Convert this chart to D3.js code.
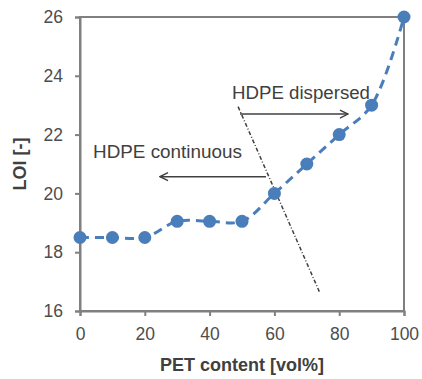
<!DOCTYPE html>
<html>
<head>
<meta charset="utf-8">
<script src="https://cdn.jsdelivr.net/npm/d3@7"></script>
<style>
  body { margin: 0; background: #fff; }
  text { font-family: "Liberation Sans", Arial, sans-serif; }
</style>
</head>
<body>
<div id="chart"></div>
<script>
// data
const petContent = [0, 10, 20, 30, 40, 50, 60, 70, 80, 90, 100];
const loi = [18.5, 18.5, 18.5, 19.05, 19.05, 19.05, 20, 21, 22, 23, 26];
const xTicks = [0, 20, 40, 60, 80, 100];
const yTicks = [16, 18, 20, 22, 24, 26];
// phase boundary line and the two arrows (data coordinates)
const boundary = [[48.8, 22.95], [74.1, 16.6]];
const arrowDispersed = [[49.4, 22.7], [82.7, 22.7]];
const arrowContinuous = [[57.4, 20.57], [24.7, 20.57]];

const w = 422, h = 379;
const margin = { top: 17, right: 18, bottom: 68, left: 80 };

const svg = d3.select("#chart")
    .append("svg")
    .attr("width", w)
    .attr("height", h);

const xScale = d3.scaleLinear()
    .domain([0, 100])
    .range([margin.left, w - margin.right]);

const yScale = d3.scaleLinear()
    .domain([16, 26])
    .range([h - margin.bottom, margin.top]);

const axisColor = "#808080";
const textColor = "#4d4d4d";

// frame (top + right)
svg.append("rect")
    .attr("x", xScale(0))
    .attr("y", yScale(26))
    .attr("width", xScale(100) - xScale(0))
    .attr("height", yScale(16) - yScale(26))
    .attr("fill", "none")
    .attr("stroke", axisColor)
    .attr("stroke-width", 2);

// axes
let xAxis = d3.axisBottom(xScale)
    .tickValues(xTicks)
    .tickSize(5)
    .tickPadding(12);
let gx = svg.append("g")
    .attr("transform", "translate(0," + yScale(16) + ")")
    .call(xAxis);

let yAxis = d3.axisLeft(yScale)
    .tickValues(yTicks)
    .tickSize(5)
    .tickPadding(12);
let gy = svg.append("g")
    .attr("transform", "translate(" + xScale(0) + ",0)")
    .call(yAxis);

[gx, gy].forEach(g => {
    g.select(".domain").attr("stroke", axisColor).attr("stroke-width", 2);
    g.selectAll(".tick line").attr("stroke", axisColor).attr("stroke-width", 2);
    g.selectAll(".tick text")
        .attr("fill", textColor)
        .style("font-size", "17.5px")
        .style("font-family", "'Liberation Sans', Arial, sans-serif");
});

// axis titles
svg.append("text")
    .attr("x", (xScale(0) + xScale(100)) / 2)
    .attr("y", 371)
    .attr("text-anchor", "middle")
    .attr("fill", "#404040")
    .style("font-size", "18px")
    .style("font-weight", "bold")
    .text("PET content [vol%]");

svg.append("text")
    .attr("transform", "rotate(-90)")
    .attr("x", -(yScale(16) + yScale(26)) / 2)
    .attr("y", 26)
    .attr("text-anchor", "middle")
    .attr("fill", "#404040")
    .style("font-size", "18px")
    .style("font-weight", "bold")
    .text("LOI [-]");

// arrow marker
svg.append("defs").append("marker")
    .attr("id", "arrow")
    .attr("viewBox", "0 0 10 10")
    .attr("refX", 9)
    .attr("refY", 5)
    .attr("markerWidth", 10)
    .attr("markerHeight", 10)
    .attr("markerUnits", "userSpaceOnUse")
    .attr("orient", "auto")
    .append("path")
    .attr("d", "M1,1 L9,5 L1,9")
    .attr("fill", "none")
    .attr("stroke", "#404040")
    .attr("stroke-width", 1.4);

const seg = d3.line()
    .x(d => xScale(d[0]))
    .y(d => yScale(d[1]));

// phase boundary (dash-dot)
svg.append("path")
    .attr("d", seg(boundary))
    .attr("fill", "none")
    .attr("stroke", "#404040")
    .attr("stroke-width", 1.5)
    .attr("stroke-dasharray", "4,2,1,2");

[arrowDispersed, arrowContinuous].forEach(a => {
    svg.append("path")
        .attr("d", seg(a))
        .attr("fill", "none")
        .attr("stroke", "#404040")
        .attr("stroke-width", 1.5)
        .attr("marker-end", "url(#arrow)");
});

svg.append("text")
    .attr("x", 232)
    .attr("y", 99)
    .attr("fill", "#404040")
    .attr("textLength", 138)
    .attr("lengthAdjust", "spacingAndGlyphs")
    .style("font-size", "17.5px")
    .text("HDPE dispersed");

svg.append("text")
    .attr("x", 93)
    .attr("y", 158)
    .attr("fill", "#404040")
    .attr("textLength", 149)
    .attr("lengthAdjust", "spacingAndGlyphs")
    .style("font-size", "17.5px")
    .text("HDPE continuous");

// data series
const values = petContent.map((p, i) => ({ p: p, v: loi[i] }));
const blue = "#4A7EBB";

let line = d3.line()
    .curve(d3.curveCatmullRom.alpha(0.5))
    .x(d => xScale(d.p))
    .y(d => yScale(d.v));

svg.append("path")
    .datum(values)
    .attr("d", line)
    .attr("fill", "none")
    .attr("stroke", blue)
    .attr("stroke-width", 3)
    .attr("stroke-dasharray", "9,6");

svg.append("g")
    .selectAll("circle")
    .data(values)
    .join("circle")
    .attr("cx", d => xScale(d.p))
    .attr("cy", d => yScale(d.v))
    .attr("r", 6.5)
    .attr("fill", blue);
</script>
</body>
</html>
